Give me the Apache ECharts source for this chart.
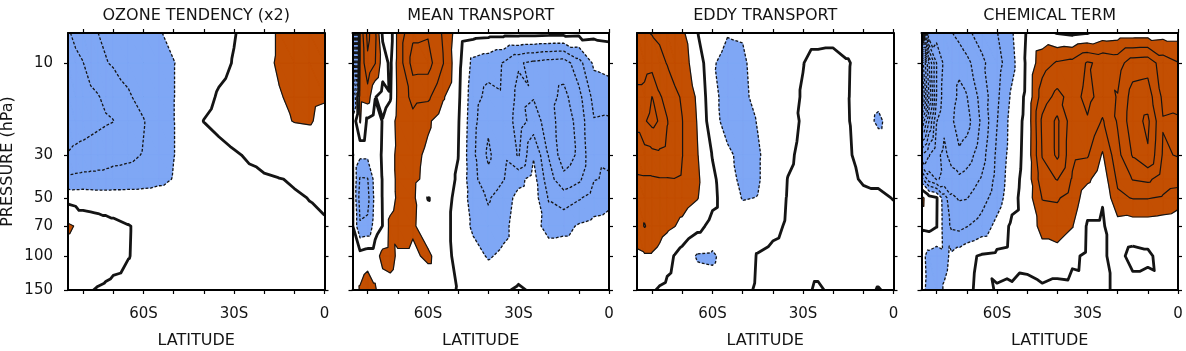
<!DOCTYPE html>
<html><head><meta charset="utf-8">
<script src="https://cdn.jsdelivr.net/npm/echarts@6/dist/echarts.min.js"></script>
<style>html,body{margin:0;padding:0;background:#fff}#c{width:1186px;height:351px}</style>
</head><body><div id="c"></div>
<script>
// ---- data ----
const latitudes = [-85,-82.5,-80,-77.5,-75,-72.5,-70,-65,-60,-55,-50,-45,-40,-35,-30,-25,-20,-15,-10,-5,0];
const pressures = [7,10,15,20,30,40,50,70,100,150];
const titles = ['OZONE TENDENCY (x2)','MEAN TRANSPORT','EDDY TRANSPORT','CHEMICAL TERM'];
const pressureTicks = [10,30,50,70,100,150];
const latTicks = [-80,-70,-60,-50,-40,-30,-20,-10,0];
const latLabels = [-60,-30,0];

// rows = pressures (top to bottom), columns = latitudes; units of one contour interval
const ozoneTendency = [
 [-3.1,-2.8,-2.5,-2.25,-2.0,-1.85,-1.7,-1.5,-1.3,-1.05,-0.85,-0.7,-0.5,-0.3,-0.05,0.3,0.7,1.1,1.3,1.4,1.4],
 [-3.4,-3.2,-3.02,-2.6,-2.35,-2.05,-1.9,-1.7,-1.45,-1.2,-1.02,-0.8,-0.55,-0.25,0.05,0.4,0.8,1.1,1.4,1.5,1.5],
 [-3.6,-3.5,-3.4,-3.2,-3.05,-2.8,-2.6,-2.1,-1.7,-1.35,-1.02,-0.7,-0.3,0.1,0.3,0.55,0.8,0.95,1.15,1.1,1.05],
 [-3.5,-3.45,-3.4,-3.3,-3.2,-3.1,-3.02,-2.5,-2.05,-1.5,-1.02,-0.5,0.02,0.3,0.5,0.65,0.8,0.9,1.02,1.05,0.85],
 [-2.95,-2.8,-2.7,-2.6,-2.5,-2.4,-2.3,-2.2,-1.95,-1.5,-1.02,-0.7,-0.5,-0.35,-0.1,0.1,0.3,0.45,0.55,0.6,0.6],
 [-1.8,-1.75,-1.7,-1.7,-1.7,-1.7,-1.65,-1.6,-1.5,-1.3,-0.95,-0.6,-0.45,-0.35,-0.25,-0.18,-0.1,-0.02,0.05,0.1,0.15],
 [-0.3,-0.4,-0.4,-0.45,-0.5,-0.5,-0.5,-0.5,-0.5,-0.45,-0.4,-0.35,-0.3,-0.3,-0.25,-0.2,-0.15,-0.1,-0.05,0.01,0.08],
 [1.15,0.95,0.5,0.45,0.4,0.3,0.2,0.03,-0.15,-0.25,-0.3,-0.3,-0.3,-0.3,-0.25,-0.2,-0.2,-0.15,-0.12,-0.08,-0.05],
 [0.6,0.55,0.5,0.45,0.4,0.3,0.2,0.02,-0.15,-0.25,-0.3,-0.3,-0.3,-0.3,-0.3,-0.3,-0.3,-0.3,-0.3,-0.3,-0.3],
 [0.3,0.25,0.15,0.03,-0.05,-0.1,-0.15,-0.2,-0.25,-0.3,-0.3,-0.3,-0.3,-0.3,-0.3,-0.3,-0.3,-0.3,-0.3,-0.3,-0.3]
];
const meanTransport = [
 [-9,1.2,3.3,2.2,-0.2,-0.5,1.3,2.8,2.9,1.9,0.5,0.35,0.3,0.3,0.35,0.35,0.3,0.3,0.25,0.2,0.25],
 [-6,1.1,2.8,2.05,0.5,-0.2,1.3,3.4,3.4,2.05,0.3,-1.3,-1.6,-2.05,-2.9,-3.2,-3.4,-3.5,-2.4,-0.8,-0.6],
 [-2.5,1.3,1.5,0.05,-0.4,-0.1,1.2,2.3,2.2,1.1,0.2,-1.6,-2.3,-2.1,-3.3,-3.05,-3.6,-4.3,-3.3,-1.7,-1.6],
 [-0.8,1.1,-0.2,-0.5,0.05,0.5,1.3,1.7,1.15,0.5,0.1,-1.7,-2.8,-2.2,-3.5,-2.6,-3.4,-4.7,-3.6,-2.05,-2.1],
 [0.05,-0.8,-0.8,-0.4,0.1,0.7,1.2,1.3,0.8,0.4,0.02,-1.8,-3.2,-2.2,-3.1,-1.1,-3.05,-4.6,-3.8,-2.1,-2.2],
 [0.1,-2.1,-2.05,-0.6,0.05,0.6,1.2,1.25,0.7,0.4,-0.1,-1.7,-2.7,-2.05,-1.3,-0.6,-2.6,-3.7,-3.2,-2.05,-1.9],
 [0.1,-2.4,-2.3,-0.7,0.05,0.5,1.2,1.2,-0.03,0.3,-0.2,-1.5,-2.1,-1.5,-0.7,-0.5,-2.1,-2.5,-2.1,-1.6,-1.3],
 [0.1,-1.9,-1.8,-0.5,0.02,1.3,1.6,1.15,0.4,0.3,-0.3,-1.2,-1.7,-1.3,-0.5,-0.6,-1.4,-1.3,-0.9,-0.7,-0.6],
 [0.3,0.4,0.6,0.6,1.3,1.4,0.8,0.8,1.2,0.4,-0.3,-0.6,-1.1,-0.8,-0.5,-0.4,-0.4,-0.4,-0.4,-0.3,-0.3],
 [0.3,1.1,1.5,1.1,0.5,0.6,0.4,0.3,0.3,0.3,-0.05,-0.2,-0.2,-0.1,0.1,-0.1,-0.2,-0.2,-0.2,-0.2,-0.2]
];
const eddyTransport = [
 [2.1,2.1,1.95,1.8,1.6,1.4,1.2,0.05,-0.5,-0.95,-0.9,-0.6,-0.4,-0.3,-0.3,-0.3,-0.3,-0.3,-0.2,-0.2,-0.2],
 [2.3,2.5,2.6,2.3,1.95,1.6,1.3,0.65,-0.9,-1.3,-1.2,-0.5,-0.35,-0.2,-0.02,0.25,0.3,0.05,-0.3,-0.4,-0.3],
 [3.4,3.4,4.02,3.1,2.7,2.2,1.9,0.85,-0.7,-1.4,-1.3,-0.6,-0.4,-0.2,0.05,0.3,0.3,0.03,-0.4,-0.7,-0.4],
 [3.2,3.9,4.3,3.9,3.05,2.4,2.02,0.95,-0.6,-1.4,-1.4,-0.95,-0.5,-0.3,0.1,0.3,0.3,0.05,-0.5,-1.2,-0.5],
 [2.6,2.6,2.7,2.8,2.7,2.5,2.02,1.05,-0.05,-0.8,-1.3,-1.1,-0.6,-0.15,0.2,0.35,0.35,0.1,-0.3,-0.3,-0.3],
 [1.85,1.9,1.9,1.95,1.95,1.98,1.9,1.15,0.2,-0.6,-1.25,-1.1,-0.5,0.02,0.25,0.35,0.35,0.2,-0.1,-0.1,-0.1],
 [1.6,1.6,1.6,1.55,1.5,1.45,1.4,1.05,0.25,-0.5,-1.05,-0.98,-0.4,0.05,0.3,0.35,0.35,0.3,0.2,0.1,-0.02],
 [1.6,2.05,1.7,1.4,1.2,1.02,0.8,0.3,-0.3,-0.5,-0.5,-0.45,-0.2,0.1,0.3,0.35,0.35,0.3,0.3,0.3,0.2],
 [0.8,0.9,0.9,0.7,0.3,-0.05,-0.4,-1.1,-1.15,-0.6,-0.4,0.05,0.2,0.3,0.3,0.3,0.3,0.3,0.3,0.3,0.3],
 [0.4,0.3,0.1,-0.1,-0.2,-0.3,-0.4,-0.5,-0.6,-0.4,-0.2,0.1,0.2,0.2,0.15,-0.1,0.15,0.2,0.15,-0.03,0.15]
];
const chemicalTerm = [
 [3,-4,-4.5,-4.2,-4.05,-3.6,-3.2,-2.6,-2.05,-1.1,0.1,0.3,-0.05,-0.2,-0.05,0.4,0.5,0.5,0.5,0.6,0.6],
 [-13,-9,-6,-4.8,-4.6,-4.8,-4.3,-3.2,-2.4,-1.3,0.2,1.6,2.1,2.3,3.1,2.8,2.6,3.5,3.6,2.5,2.05],
 [-15,-10,-6,-4.5,-4.6,-5.2,-5.05,-3.6,-2.2,-0.8,0.25,2.5,3.3,2.6,3.3,2.6,3.05,4.4,4.5,2.8,2.7],
 [-11,-8,-5.05,-4.2,-4.8,-5.6,-5.4,-3.8,-2.05,-0.6,0.3,3.2,4.2,2.4,2.9,1.9,3.1,4.6,5.2,3.05,3.1],
 [-6.05,-5.05,-4.2,-3.8,-4.3,-4.8,-4.5,-3.4,-1.8,-0.55,0.35,3.05,4.2,2.2,2.1,0.9,2.7,4.1,4.9,2.9,3.05],
 [-1.6,-3.5,-4.05,-3.9,-3.7,-3.8,-3.6,-2.9,-1.7,-0.4,0.4,2.6,3.05,1.9,1.2,0.4,2.2,3.05,3.2,2.5,2.4],
 [1.3,0.4,0.1,-1.5,-2.8,-3.1,-3.05,-2.4,-1.5,-0.3,0.45,2.05,2.1,1.6,0.4,0.05,1.8,2.05,2.05,1.9,1.5],
 [0.2,0.3,0.05,-1.4,-2.2,-2.3,-2.05,-1.6,-0.7,0.2,0.4,1.3,1.5,1.05,-0.1,-0.1,0.6,0.5,0.5,0.4,0.3],
 [-0.7,-1.3,-1.5,-1.3,-0.8,-0.5,-0.2,0.1,0.2,0.3,0.35,0.6,0.6,0.15,-0.15,-0.1,0.25,-0.25,-0.15,0.3,0.3],
 [-0.8,-1.2,-1.5,-0.9,-0.6,-0.4,-0.15,0.2,-0.05,-0.1,-0.3,-0.15,-0.3,-0.25,-0.2,-0.1,0.1,0.3,0.3,0.2,0.2]
];
const fields = [ozoneTendency, meanTransport, eddyTransport, chemicalTerm];
const contourLevels = [];
for (let L = -20; L <= 10; L++) contourLevels.push(L);

// ---- style ----
const ORANGE = '#c34f02', BLUE = '#7fa7f5', INK = '#141414';
const FONT = 'DejaVu Sans';

function makeRender(field) {
  return function (params, api) {
    const nx = latitudes.length, ny = pressures.length;
    const pts = [], vals = [];
    for (let j = 0; j < ny; j++) for (let i = 0; i < nx; i++) {
      pts.push(api.coord([latitudes[i], Math.log10(pressures[j])]));
      vals.push(field[j][i]);
    }
    const id = (i, j) => j * nx + i;
    const tris = [];
    for (let j = 0; j < ny - 1; j++) for (let i = 0; i < nx - 1; i++) {
      const a = id(i, j), b = id(i + 1, j), c = id(i + 1, j + 1), d = id(i, j + 1);
      tris.push([a, b, c], [a, c, d]);
    }
    function edgePt(n1, n2, lev) {
      const lo = Math.min(n1, n2), hi = Math.max(n1, n2);
      const v1 = vals[lo], v2 = vals[hi];
      const f = (lev - v1) / (v2 - v1);
      return [pts[lo][0] + f * (pts[hi][0] - pts[lo][0]), pts[lo][1] + f * (pts[hi][1] - pts[lo][1])];
    }
    function region(sign, thr) {
      let d = '';
      for (const t of tris) {
        const poly = [];
        for (let k = 0; k < 3; k++) {
          const n1 = t[k], n2 = t[(k + 1) % 3];
          const in1 = sign * (vals[n1] - thr) >= 0, in2 = sign * (vals[n2] - thr) >= 0;
          if (in1) poly.push(pts[n1]);
          if (in1 !== in2) poly.push(edgePt(n1, n2, thr));
        }
        if (poly.length >= 3) d += 'M' + poly.map(p => p[0].toFixed(2) + ' ' + p[1].toFixed(2)).join('L') + 'Z';
      }
      return d;
    }
    function contour(level) {
      const segs = [];
      for (const t of tris) {
        const ends = [];
        for (let k = 0; k < 3; k++) {
          const n1 = t[k], n2 = t[(k + 1) % 3];
          const p1 = vals[n1] >= level, p2 = vals[n2] >= level;
          if (p1 !== p2) ends.push({ key: Math.min(n1, n2) + '_' + Math.max(n1, n2), pt: edgePt(n1, n2, level) });
        }
        if (ends.length === 2) segs.push(ends);
      }
      const byKey = new Map();
      segs.forEach((s, idx) => s.forEach(e => { if (!byKey.has(e.key)) byKey.set(e.key, []); byKey.get(e.key).push(idx); }));
      const used = new Array(segs.length).fill(false);
      const lines = [];
      function walk(idx, endI) {
        const line = [segs[idx][endI].pt];
        while (true) {
          used[idx] = true;
          const other = segs[idx][1 - endI];
          line.push(other.pt);
          const next = byKey.get(other.key).find(c => !used[c]);
          if (next === undefined) break;
          endI = segs[next][0].key === other.key ? 0 : 1;
          idx = next;
        }
        return line;
      }
      segs.forEach((s, idx) => {
        if (used[idx]) return;
        for (let e = 0; e < 2; e++) if (byKey.get(s[e].key).length === 1) { lines.push(walk(idx, e)); return; }
      });
      segs.forEach((s, idx) => { if (!used[idx]) lines.push(walk(idx, 0)); });
      return lines;
    }
    const children = [];
    const po = region(1, 1), pb = region(-1, -1);
    if (po) children.push({ type: 'path', shape: { pathData: po }, style: { fill: ORANGE, stroke: ORANGE, lineWidth: 0.5 } });
    if (pb) children.push({ type: 'path', shape: { pathData: pb }, style: { fill: BLUE, stroke: BLUE, lineWidth: 0.5 } });
    for (const L of contourLevels) {
      for (const ln of contour(L)) {
        if (ln.length < 2) continue;
        children.push({
          type: 'polyline', shape: { points: ln },
          style: { stroke: INK, fill: null, lineWidth: L === 0 ? 2.8 : (L < 0 ? 1.3 : 1.2), lineDash: L < 0 ? [2.8, 1.8] : null, lineJoin: 'round' }
        });
      }
    }
    return { type: 'group', children };
  };
}

const lefts = [68, 352.5, 637, 921.5];
const grid = lefts.map(l => ({ left: l, top: 33, width: 256.5, height: 257, outerBoundsMode: 'none', containLabel: false }));
const lineStyle = { color: '#000', width: 2 };
const tickStyle = { color: '#000', width: 1.2 };
const xAxis = [], yAxis = [], series = [];
const yMin = Math.log10(pressures[0]), yMax = Math.log10(pressures[pressures.length - 1]);
const yTickVals = pressureTicks.map(p => Math.log10(p));
for (let k = 0; k < 4; k++) {
  xAxis.push({
    gridIndex: k, type: 'value', position: 'bottom', min: -85, max: 0, z: 10,
    name: 'LATITUDE', nameLocation: 'middle', nameGap: 43,
    nameTextStyle: { fontFamily: FONT, fontSize: 16, color: INK },
    axisLine: { show: true, onZero: false, lineStyle },
    axisTick: { show: true, inside: false, length: 4, customValues: latTicks, lineStyle: tickStyle },
    axisLabel: { show: true, customValues: latLabels, margin: 17, fontFamily: FONT, fontSize: 15, color: INK,
      formatter: v => (v === 0 ? '0' : Math.abs(v) + 'S') },
    splitLine: { show: false }
  });
  xAxis.push({
    gridIndex: k, type: 'value', position: 'top', min: -85, max: 0, z: 10,
    name: titles[k], nameLocation: 'middle', nameGap: 9,
    nameTextStyle: { fontFamily: FONT, fontSize: 16, color: INK },
    axisLine: { show: true, onZero: false, lineStyle },
    axisTick: { show: true, inside: false, length: 4, customValues: latTicks, lineStyle: tickStyle },
    axisLabel: { show: false }, splitLine: { show: false }
  });
  yAxis.push({
    gridIndex: k, type: 'value', position: 'left', inverse: true, min: yMin, max: yMax, z: 10,
    name: k === 0 ? 'PRESSURE (hPa)' : '', nameLocation: 'middle', nameGap: 52, nameRotate: 90,
    nameTextStyle: { fontFamily: FONT, fontSize: 16, color: INK },
    axisLine: { show: true, onZero: false, lineStyle },
    axisTick: { show: true, inside: false, length: 4, customValues: yTickVals, lineStyle: tickStyle },
    axisLabel: { show: k === 0, customValues: yTickVals, margin: 15, fontFamily: FONT, fontSize: 15, color: INK,
      formatter: v => String(Math.round(Math.pow(10, v))) },
    splitLine: { show: false }
  });
  yAxis.push({
    gridIndex: k, type: 'value', position: 'right', inverse: true, min: yMin, max: yMax, z: 10,
    axisLine: { show: true, onZero: false, lineStyle },
    axisTick: { show: true, inside: false, length: 4, customValues: yTickVals, lineStyle: tickStyle },
    axisLabel: { show: false }, splitLine: { show: false }
  });
  series.push({
    type: 'custom', xAxisIndex: 2 * k, yAxisIndex: 2 * k, clip: true, silent: true, z: 2,
    data: [[-40, 1.5]], renderItem: makeRender(fields[k])
  });
}
const chart = echarts.init(document.getElementById('c'), null, { renderer: 'canvas' });
chart.setOption({ animation: false, backgroundColor: '#fff', grid, xAxis, yAxis, series });
</script>
</body></html>
